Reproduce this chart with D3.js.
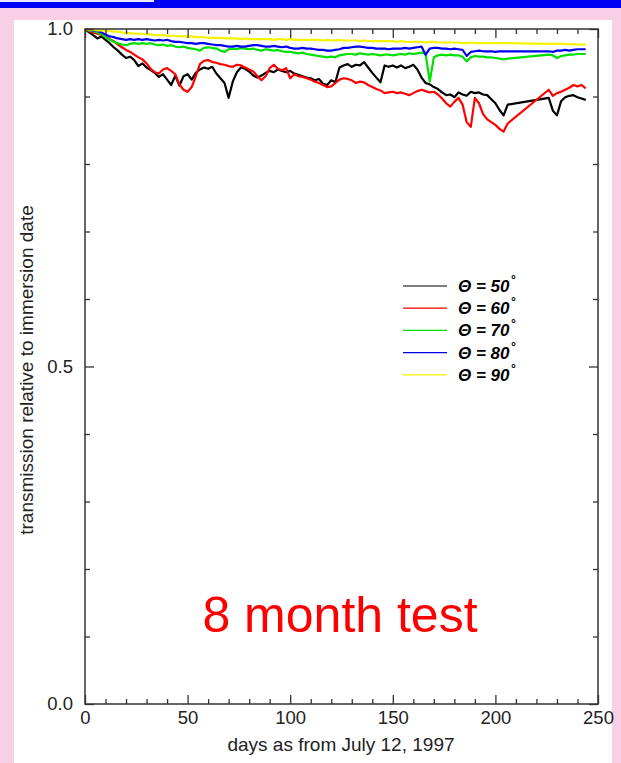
<!DOCTYPE html>
<html>
<head>
<meta charset="utf-8">
<script src="https://cdn.jsdelivr.net/npm/d3@7"></script>
<style>
  html, body { margin: 0; padding: 0; background: #f7d0e6; }
  svg { display: block; }
  text { font-family: "Liberation Sans", Arial, Helvetica, sans-serif; }
</style>
</head>
<body>
<svg id="chart" width="621" height="763"></svg>
<script>
// Days since immersion (July 12, 1997); the logger has a gap between day 206 and 226.
const days = [
  0,2,4,6,8,10,12,14,16,18,
  20,22,24,26,28,30,32,34,36,38,
  40,42,44,46,48,50,52,54,56,58,
  60,62,64,66,68,70,72,74,76,78,
  80,82,84,86,88,90,92,94,96,98,
  100,102,104,106,108,110,112,114,116,118,
  120,122,124,126,128,130,132,134,136,138,
  140,142,144,146,148,150,152,154,156,158,
  160,162,164,166,168,170,172,174,176,178,
  180,182,184,186,188,190,192,194,196,198,
  200,202,204,206,
  226,228,230,232,234,236,238,240,242,244
];

// Relative transmission for each incidence angle
const theta50 = [
  1.000,0.995,0.991,0.986,0.989,0.984,0.979,0.973,0.968,0.962,
  0.957,0.959,0.954,0.945,0.949,0.943,0.939,0.935,0.929,0.933,
  0.925,0.917,0.931,0.916,0.930,0.933,0.925,0.935,0.940,0.943,
  0.941,0.944,0.934,0.927,0.920,0.898,0.922,0.936,0.943,0.941,
  0.937,0.931,0.928,0.931,0.935,0.938,0.936,0.940,0.938,0.936,
  0.938,0.934,0.932,0.930,0.928,0.927,0.924,0.926,0.919,0.917,
  0.924,0.921,0.943,0.946,0.948,0.944,0.947,0.946,0.951,0.943,
  0.935,0.928,0.921,0.946,0.944,0.946,0.943,0.946,0.942,0.944,
  0.947,0.940,0.928,0.920,0.918,0.914,0.911,0.906,0.902,0.903,
  0.899,0.906,0.903,0.901,0.907,0.905,0.906,0.903,0.902,0.896,
  0.890,0.880,0.872,0.888,
  0.898,0.879,0.872,0.893,0.899,0.901,0.902,0.899,0.897,0.895
];
const theta60 = [
  1.000,0.997,0.995,0.993,0.991,0.988,0.985,0.982,0.977,0.973,
  0.969,0.966,0.962,0.958,0.955,0.949,0.941,0.936,0.934,0.940,
  0.942,0.938,0.933,0.918,0.910,0.907,0.914,0.930,0.948,0.953,
  0.954,0.951,0.950,0.948,0.947,0.945,0.944,0.947,0.946,0.943,
  0.940,0.937,0.930,0.924,0.930,0.942,0.947,0.941,0.939,0.942,
  0.927,0.933,0.930,0.929,0.927,0.925,0.922,0.920,0.917,0.914,
  0.915,0.920,0.925,0.927,0.926,0.924,0.920,0.922,0.921,0.917,
  0.914,0.911,0.909,0.905,0.906,0.907,0.905,0.906,0.904,0.902,
  0.905,0.908,0.910,0.908,0.906,0.907,0.903,0.897,0.890,0.885,
  0.892,0.898,0.888,0.862,0.855,0.898,0.890,0.874,0.866,0.862,
  0.858,0.852,0.848,0.860,
  0.910,0.901,0.905,0.907,0.910,0.913,0.917,0.915,0.917,0.912
];
const theta70 = [
  1.000,0.998,0.997,0.995,0.992,0.988,0.984,0.981,0.979,0.977,
  0.976,0.978,0.979,0.978,0.979,0.978,0.979,0.977,0.976,0.977,
  0.975,0.976,0.974,0.973,0.974,0.972,0.971,0.970,0.968,0.972,
  0.973,0.972,0.971,0.968,0.966,0.970,0.971,0.970,0.972,0.971,
  0.970,0.971,0.969,0.968,0.970,0.969,0.968,0.969,0.967,0.966,
  0.966,0.965,0.964,0.965,0.963,0.962,0.961,0.960,0.959,0.958,
  0.959,0.958,0.961,0.962,0.963,0.963,0.962,0.964,0.963,0.962,
  0.963,0.962,0.961,0.962,0.962,0.961,0.962,0.963,0.962,0.964,
  0.963,0.964,0.965,0.963,0.922,0.958,0.961,0.962,0.961,0.962,
  0.961,0.961,0.959,0.952,0.958,0.960,0.959,0.959,0.958,0.958,
  0.957,0.956,0.955,0.956,
  0.962,0.961,0.957,0.960,0.961,0.962,0.962,0.963,0.963,0.963
];
const theta80 = [
  1.000,0.999,0.998,0.997,0.995,0.992,0.989,0.988,0.986,0.985,
  0.984,0.985,0.984,0.985,0.984,0.985,0.984,0.983,0.984,0.983,
  0.984,0.982,0.981,0.981,0.980,0.979,0.979,0.978,0.979,0.979,
  0.978,0.977,0.976,0.976,0.975,0.974,0.974,0.975,0.974,0.974,
  0.975,0.976,0.976,0.975,0.974,0.974,0.975,0.974,0.973,0.974,
  0.972,0.971,0.971,0.972,0.971,0.971,0.970,0.969,0.969,0.968,
  0.968,0.969,0.970,0.972,0.972,0.973,0.974,0.974,0.973,0.972,
  0.972,0.971,0.971,0.971,0.970,0.971,0.971,0.971,0.972,0.971,
  0.972,0.973,0.974,0.962,0.971,0.972,0.972,0.971,0.971,0.970,
  0.971,0.970,0.969,0.960,0.966,0.967,0.968,0.967,0.967,0.967,
  0.966,0.967,0.967,0.967,
  0.967,0.966,0.968,0.968,0.969,0.968,0.969,0.970,0.970,0.970
];
const theta90 = [
  1.000,0.999,0.999,0.998,0.998,0.997,0.997,0.996,0.996,0.995,
  0.994,0.994,0.993,0.993,0.993,0.992,0.992,0.991,0.991,0.991,
  0.990,0.990,0.990,0.989,0.989,0.989,0.989,0.988,0.988,0.988,
  0.987,0.987,0.987,0.987,0.986,0.986,0.986,0.986,0.985,0.986,
  0.985,0.985,0.985,0.985,0.985,0.985,0.984,0.985,0.985,0.984,
  0.985,0.984,0.984,0.984,0.984,0.984,0.984,0.984,0.983,0.984,
  0.983,0.983,0.984,0.983,0.983,0.983,0.983,0.982,0.983,0.982,
  0.982,0.982,0.982,0.982,0.982,0.982,0.981,0.982,0.981,0.981,
  0.981,0.981,0.981,0.980,0.981,0.981,0.980,0.980,0.980,0.980,
  0.980,0.980,0.979,0.979,0.980,0.979,0.979,0.979,0.979,0.979,
  0.979,0.979,0.979,0.979,
  0.978,0.978,0.978,0.978,0.978,0.977,0.978,0.977,0.977,0.977
];

const seriesLabels = ["50", "60", "70", "80", "90"];
const seriesColors = ["#000000", "#ff0000", "#00e000", "#0000ee", "#f4f400"];
const seriesValues = [theta50, theta60, theta70, theta80, theta90];

const xLabelTicks = [0, 50, 100, 150, 200, 250];
const yLabelTicks = [0.0, 0.5, 1.0];
const xMinorTicks = [10,20,30,40,60,70,80,90,110,120,130,140,160,170,180,190,210,220,230,240];
const yMinorTicks = [0.1,0.2,0.3,0.4,0.6,0.7,0.8,0.9];

const svg = d3.select("#chart");

// slide frame: blue title bar, pink margin, white panel
svg.append("rect").attr("x", 0).attr("y", 0).attr("width", 621).attr("height", 8).attr("fill", "#0000f4");
svg.append("rect").attr("x", 0).attr("y", 0).attr("width", 154).attr("height", 2).attr("fill", "#e8e8ff");
svg.append("rect").attr("x", 14).attr("y", 20).attr("width", 598).attr("height", 743).attr("fill", "#ffffff");

const x = d3.scaleLinear().domain([0, 250]).range([85, 598]);
const y = d3.scaleLinear().domain([0, 1]).range([704, 29]);

// data lines
const line = d3.line().x((d, i) => x(days[i])).y(d => y(d));
const plot = svg.append("g");
seriesValues.forEach((vals, k) => {
  plot.append("path")
    .datum(vals)
    .attr("d", line)
    .attr("fill", "none")
    .attr("stroke", seriesColors[k])
    .attr("stroke-width", 2.2)
    .attr("stroke-linejoin", "round");
});

// axes: inward ticks on all four sides, longer at labelled values
const axisColor = "#333";
function styleAxis(g) {
  g.select(".domain").remove();
  g.selectAll(".tick line").attr("stroke", axisColor).attr("stroke-width", 1.3);
  g.selectAll(".tick text").attr("fill", "#222").style("font-size", "18.5px")
    .style("font-family", '"Liberation Sans", Arial, sans-serif');
}
svg.append("g").attr("transform", `translate(0,${y(0)})`)
  .call(d3.axisBottom(x).tickValues(xMinorTicks).tickSize(-5).tickFormat(""))
  .call(styleAxis);
svg.append("g").attr("transform", `translate(0,${y(0)})`)
  .call(d3.axisBottom(x).tickValues(xLabelTicks).tickSize(-9).tickPadding(7).tickFormat(d3.format("d")))
  .call(styleAxis);
svg.append("g").attr("transform", `translate(0,${y(1)})`)
  .call(d3.axisTop(x).tickValues(xMinorTicks).tickSize(-5).tickFormat(""))
  .call(styleAxis);
svg.append("g").attr("transform", `translate(0,${y(1)})`)
  .call(d3.axisTop(x).tickValues(xLabelTicks).tickSize(-9).tickFormat(""))
  .call(styleAxis);
svg.append("g").attr("transform", `translate(${x(0)},0)`)
  .call(d3.axisLeft(y).tickValues(yMinorTicks).tickSize(-5).tickFormat(""))
  .call(styleAxis);
svg.append("g").attr("transform", `translate(${x(0)},0)`)
  .call(d3.axisLeft(y).tickValues(yLabelTicks).tickSize(-9).tickPadding(12).tickFormat(d3.format(".1f")))
  .call(styleAxis);
svg.append("g").attr("transform", `translate(${x(250)},0)`)
  .call(d3.axisRight(y).tickValues(yMinorTicks).tickSize(-5).tickFormat(""))
  .call(styleAxis);
svg.append("g").attr("transform", `translate(${x(250)},0)`)
  .call(d3.axisRight(y).tickValues(yLabelTicks).tickSize(-9).tickFormat(""))
  .call(styleAxis);

// plot frame
svg.append("rect")
  .attr("x", x(0)).attr("y", y(1))
  .attr("width", x(250) - x(0)).attr("height", y(0) - y(1))
  .attr("fill", "none").attr("stroke", axisColor).attr("stroke-width", 1.5);

// axis titles
svg.append("text")
  .attr("x", 341).attr("y", 751)
  .attr("text-anchor", "middle")
  .attr("fill", "#222")
  .style("font-size", "19px")
  .text("days as from July 12, 1997");
svg.append("text")
  .attr("transform", "translate(33,370) rotate(-90)")
  .attr("text-anchor", "middle")
  .attr("fill", "#222")
  .style("font-size", "19px")
  .text("transmission relative to immersion date");

// legend
const legend = svg.append("g");
seriesLabels.forEach((lab, k) => {
  const ly = 286 + k * 22.2;
  legend.append("line")
    .attr("x1", 403).attr("x2", 447).attr("y1", ly).attr("y2", ly)
    .attr("stroke", seriesColors[k]).attr("stroke-width", 1.2);
  const t = legend.append("text")
    .attr("x", 458).attr("y", ly + 6)
    .attr("fill", "#000")
    .style("font-size", "17px")
    .style("font-weight", "bold")
    .style("font-style", "italic");
  t.append("tspan").text("\u0398 = " + lab);
  t.append("tspan").attr("dx", 1).attr("dy", -8).style("font-size", "12px").text("\u00b0");
});

// annotation
svg.append("text")
  .attr("x", 340).attr("y", 632)
  .attr("text-anchor", "middle")
  .attr("fill", "#ff0000")
  .style("font-size", "50px")
  .text("8 month test");
</script>
</body>
</html>
